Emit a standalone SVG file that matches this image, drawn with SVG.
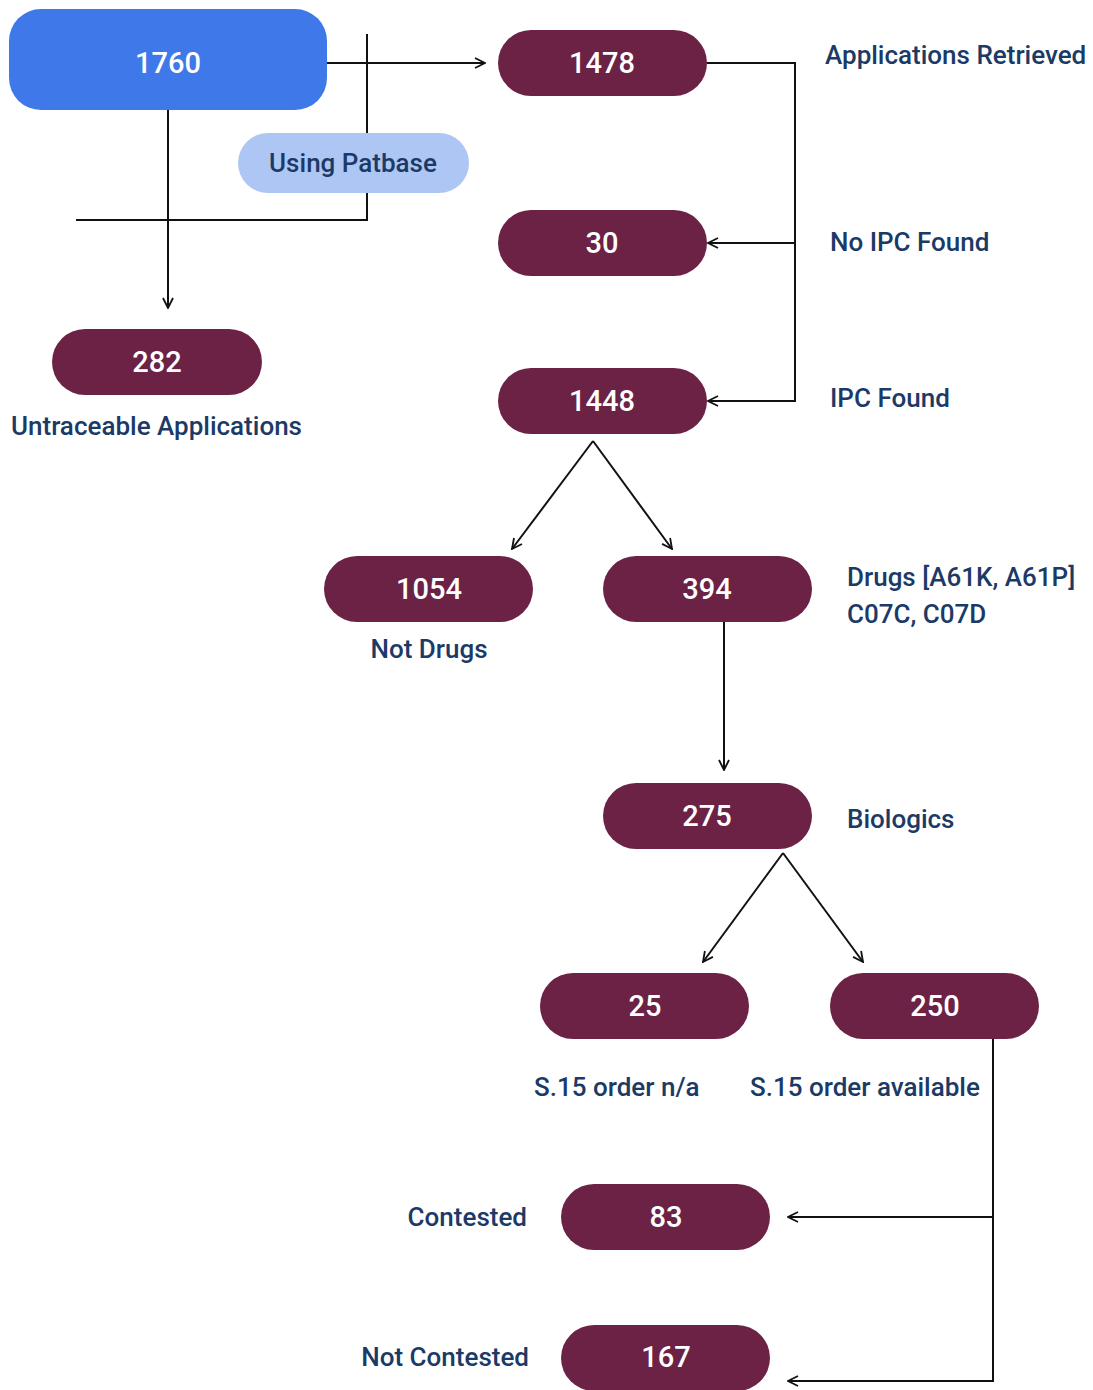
<svg xmlns="http://www.w3.org/2000/svg" width="1093" height="1390" viewBox="0 0 1093 1390">
<defs>
<marker id="arr" viewBox="0 0 12 12" refX="11" refY="6" markerWidth="12" markerHeight="12" markerUnits="userSpaceOnUse" orient="auto">
<path d="M1,1 L11,6 L1,11" fill="none" stroke="#111" stroke-width="1.8"/>
</marker>
<style>
.pill{fill:#6b2245}
.num{fill:#fff;font-family:Roboto,"Liberation Sans",sans-serif;font-size:29px;font-weight:500;text-anchor:middle;dominant-baseline:central}
.lbl{fill:#1b3a66;font-family:Roboto,"Liberation Sans",sans-serif;font-size:26px;font-weight:500;dominant-baseline:central}
.c{fill:none;stroke:#111;stroke-width:2}
</style>
</defs>
<rect width="1093" height="1390" fill="#fff"/>
<g id="connectors">
<path class="c" d="M327,63 H485" marker-end="url(#arr)"/>
<path class="c" d="M367,34 V220 H76"/>
<path class="c" d="M168,110 V308" marker-end="url(#arr)"/>
<path class="c" d="M707,63 H795 V401 H708" marker-end="url(#arr)"/>
<path class="c" d="M795,243 H708" marker-end="url(#arr)"/>
<path class="c" d="M593,441 L512,549" marker-end="url(#arr)"/>
<path class="c" d="M593,441 L672,549" marker-end="url(#arr)"/>
<path class="c" d="M724,622 V770" marker-end="url(#arr)"/>
<path class="c" d="M783,853 L703,962" marker-end="url(#arr)"/>
<path class="c" d="M783,853 L863,962" marker-end="url(#arr)"/>
<path class="c" d="M993,1039 V1381 H788" marker-end="url(#arr)"/>
<path class="c" d="M993,1217 H788" marker-end="url(#arr)"/>
</g>
<g id="n1760"><rect x="9" y="9" width="318" height="101" rx="32" fill="#3f78e8"/><text class="num" x="168" y="63">1760</text></g>
<g id="patbase"><rect x="238" y="133" width="231" height="60" rx="30" fill="#aec6f4"/><text class="lbl" x="353" y="163" text-anchor="middle">Using Patbase</text></g>
<g id="n1478"><rect class="pill" x="498" y="30" width="209" height="66" rx="33"/><text class="num" x="602" y="63">1478</text></g>
<text class="lbl" x="825" y="55">Applications Retrieved</text>
<g id="n30"><rect class="pill" x="498" y="210" width="209" height="66" rx="33"/><text class="num" x="602" y="243">30</text></g>
<text class="lbl" x="830" y="242">No IPC Found</text>
<g id="n1448"><rect class="pill" x="498" y="368" width="209" height="66" rx="33"/><text class="num" x="602" y="401">1448</text></g>
<text class="lbl" x="830" y="398">IPC Found</text>
<g id="n282"><rect class="pill" x="52" y="329" width="210" height="66" rx="33"/><text class="num" x="157" y="362">282</text></g>
<text class="lbl" x="11" y="426">Untraceable Applications</text>
<g id="n1054"><rect class="pill" x="324" y="556" width="209" height="66" rx="33"/><text class="num" x="429" y="589">1054</text></g>
<text class="lbl" x="429" y="649" text-anchor="middle">Not Drugs</text>
<g id="n394"><rect class="pill" x="603" y="556" width="209" height="66" rx="33"/><text class="num" x="707" y="589">394</text></g>
<text class="lbl" x="847" y="577">Drugs [A61K, A61P]</text>
<text class="lbl" x="847" y="614">C07C, C07D</text>
<g id="n275"><rect class="pill" x="603" y="783" width="209" height="66" rx="33"/><text class="num" x="707" y="816">275</text></g>
<text class="lbl" x="847" y="819">Biologics</text>
<g id="n25"><rect class="pill" x="540" y="973" width="209" height="66" rx="33"/><text class="num" x="645" y="1006">25</text></g>
<g id="n250"><rect class="pill" x="830" y="973" width="209" height="66" rx="33"/><text class="num" x="935" y="1006">250</text></g>
<text class="lbl" x="534" y="1087">S.15 order n/a</text>
<text class="lbl" x="750" y="1087">S.15 order available</text>
<g id="n83"><rect class="pill" x="561" y="1184" width="209" height="66" rx="33"/><text class="num" x="666" y="1217">83</text></g>
<text class="lbl" x="527" y="1217" text-anchor="end">Contested</text>
<g id="n167"><rect class="pill" x="561" y="1325" width="209" height="66" rx="33"/><text class="num" x="666" y="1357">167</text></g>
<text class="lbl" x="529" y="1357" text-anchor="end">Not Contested</text>
</svg>
